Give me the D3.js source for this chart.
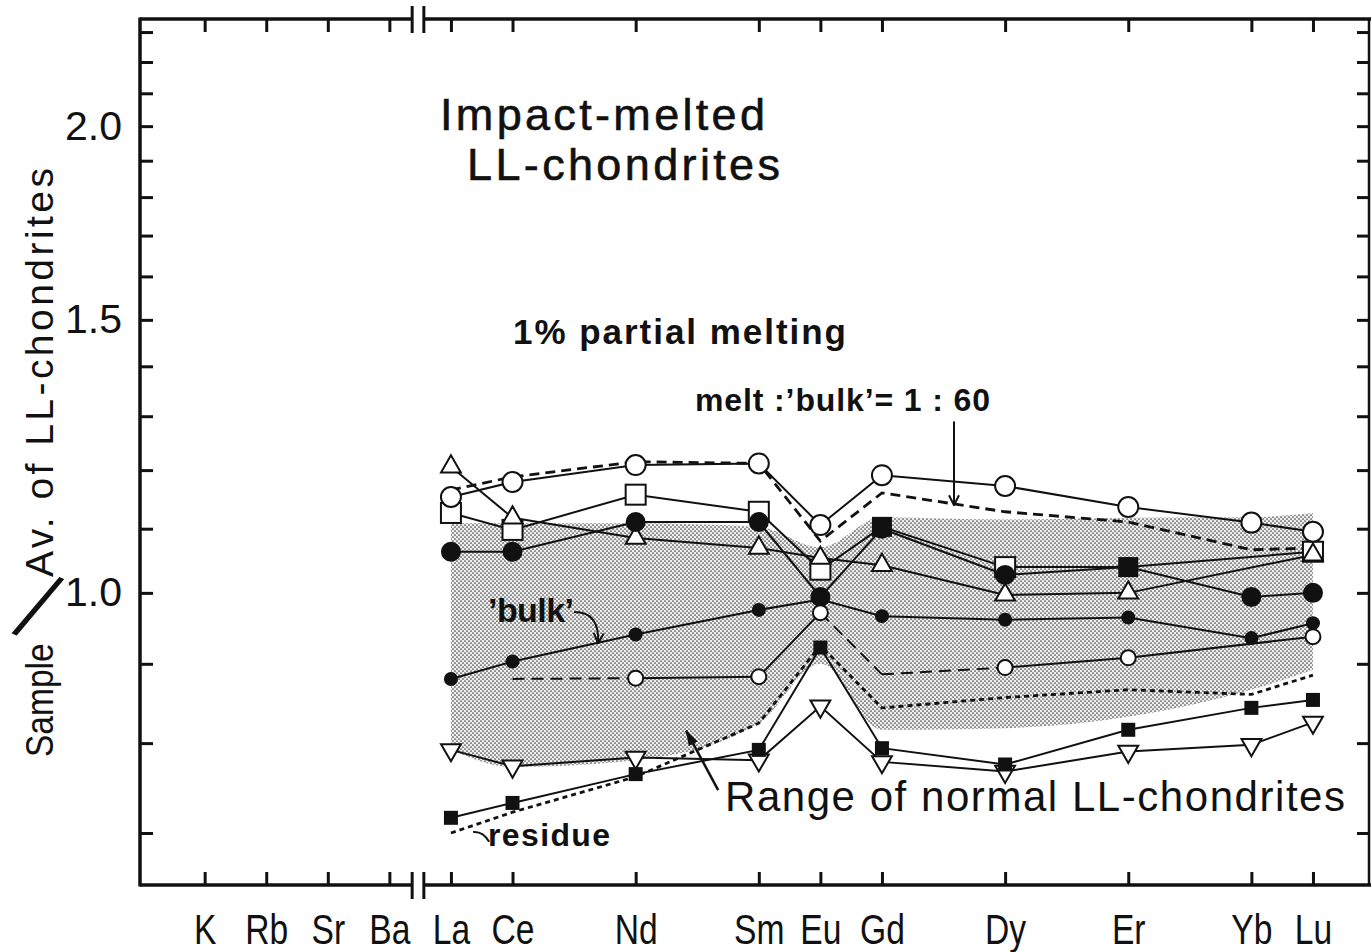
<!DOCTYPE html>
<html>
<head>
<meta charset="utf-8">
<script src="https://cdn.jsdelivr.net/npm/d3@7"></script>
<style>
  html, body { margin: 0; padding: 0; background: #fff; }
  svg { display: block; }
  text { font-family: "Liberation Sans", Arial, Helvetica, sans-serif; fill: #111; }
</style>
</head>
<body>
<svg id="chart" width="1371" height="952"></svg>
<script>
// ---- x-axis elements (REE spaced by atomic number) ----
const elements   = ["K", "Rb", "Sr", "Ba", "La", "Ce", "Nd", "Sm", "Eu", "Gd", "Dy", "Er", "Yb", "Lu"];
const elementPos = [53, 54, 55, 56, 57, 58, 60, 62, 63, 64, 66, 68, 70, 71];
const ree        = ["La", "Ce", "Nd", "Sm", "Eu", "Gd", "Dy", "Er", "Yb", "Lu"];

// ---- y-axis ticks (log scale) ----
const yTicks      = [0.7, 0.8, 0.9, 1.0, 1.1, 1.2, 1.3, 1.4, 1.5, 1.6, 1.7, 1.8, 1.9, 2.0, 2.1, 2.2, 2.3];
const yTickLabels = [1.0, 1.5, 2.0];

// ---- impact-melted samples, sample / average LL (order of `ree`; null = not determined) ----
const sampleOpenCircle   = [1.153, 1.179, 1.209, 1.212, 1.106, 1.191, 1.172, 1.136, 1.110, 1.095];
const sampleOpenSquare   = [1.126, 1.098, 1.157, 1.128, 1.035, 1.103, 1.039, 1.039, null, 1.063];
const sampleFilledCircle = [1.063, 1.063, 1.111, 1.111, 0.994, 1.100, 1.027, 1.039, 0.994, 1.000];
const sampleTriangle     = [1.206, 1.118, 1.085, 1.069, 1.053, 1.042, 0.997, 1.000, null, 1.058];
const sampleSmallCircle  = [null, 0.880, 0.881, 0.883, 0.971, 0.886, 0.895, 0.908, null, 0.937];
const sampleInvTriangle  = [0.792, 0.773, 0.783, 0.780, 0.845, 0.778, 0.767, 0.790, 0.798, 0.825];
const sampleSmallSquare  = [0.716, 0.732, 0.764, 0.792, 0.922, 0.794, 0.775, 0.816, 0.843, 0.853];
// elements where the small-circle sample is interpolated (no symbol, dashed link)
const smallCircleEstimated = ["Ce", "Gd"];
// elements where the open-square sample coincides with the filled-circle sample
const squareCoincident = ["Gd", "Er"];

// ---- 'bulk' and 1 % partial-melting model ----
const bulk    = [0.880, 0.903, 0.940, 0.975, 0.990, 0.966, 0.961, 0.964, 0.935, 0.956];
const melt    = [1.165, 1.188, 1.215, 1.212, 1.080, 1.160, 1.128, 1.111, 1.066, 1.069];
const residue = [0.700, 0.722, 0.761, 0.824, 0.925, 0.843, 0.856, 0.866, 0.860, 0.885];

// ---- range of normal LL-chondrites ----
const rangeUpper = [1.109, 1.109, 1.109, 1.103, 1.070, 1.119, 1.115, 1.118, 1.119, 1.126];
const rangeLower = [0.792, 0.772, 0.780, 0.824, 0.900, 0.816, 0.818, 0.832, 0.866, 0.892];

// ---- axis break between Ba and La ----
const axisBreak = [56.37, 56.56];

// ---------------------------------------------------------------
const W = 1371, H = 952;
const plotL = 140, plotR = 1369, plotT = 19, plotB = 885;
const svg = d3.select("#chart");

const x = d3.scaleLinear().domain([51.95, 71.91]).range([plotL, plotR]);
const y = d3.scaleLog().domain([0.648, 2.345]).range([plotB, plotT]);
const posOf = el => elementPos[elements.indexOf(el)];

// stipple pattern for the normal range
const defs = svg.append("defs");
const pat = defs.append("pattern").attr("id", "stipple")
  .attr("width", 4).attr("height", 4).attr("patternUnits", "userSpaceOnUse");
pat.append("rect").attr("width", 4).attr("height", 4).attr("fill", "#eeeeee");
pat.append("circle").attr("cx", 1).attr("cy", 1).attr("r", 0.85).attr("fill", "#444");
pat.append("circle").attr("cx", 3).attr("cy", 3).attr("r", 0.85).attr("fill", "#444");

defs.append("marker").attr("id", "arrowOpen").attr("viewBox", "0 0 12 12")
  .attr("refX", 11).attr("refY", 6).attr("markerWidth", 12).attr("markerHeight", 12)
  .attr("markerUnits", "userSpaceOnUse").attr("orient", "auto")
  .append("path").attr("d", "M1,1 L11,6 L1,11").attr("fill", "none")
  .attr("stroke", "#111").attr("stroke-width", 2);
defs.append("marker").attr("id", "arrowFilled").attr("viewBox", "0 0 16 12")
  .attr("refX", 15).attr("refY", 6).attr("markerWidth", 16).attr("markerHeight", 12)
  .attr("markerUnits", "userSpaceOnUse").attr("orient", "auto")
  .append("path").attr("d", "M0,1 L16,6 L0,11 Z").attr("fill", "#111");

// ---- shaded range ----
const rangeData = ree.map((el, i) => ({ pos: posOf(el), lo: rangeLower[i], hi: rangeUpper[i] }));
svg.append("path")
  .datum(rangeData)
  .attr("d", d3.area().x(d => x(d.pos)).y0(d => y(d.lo)).y1(d => y(d.hi)).curve(d3.curveMonotoneX))
  .attr("fill", "url(#stipple)");

// ---- frame with axis break ----
const frame = svg.append("g").attr("stroke", "#111").attr("stroke-width", 3.5).attr("fill", "none");
frame.append("line").attr("x1", plotL).attr("x2", plotL).attr("y1", plotT - 1.5).attr("y2", plotB + 1.5);
frame.append("line").attr("x1", plotR).attr("x2", plotR).attr("y1", plotT).attr("y2", plotB).attr("stroke-width", 2.5);
[plotT, plotB].forEach(yy => {
  frame.append("line").attr("x1", plotL).attr("x2", x(axisBreak[0])).attr("y1", yy).attr("y2", yy);
  frame.append("line").attr("x1", x(axisBreak[1])).attr("x2", W).attr("y1", yy).attr("y2", yy);
  axisBreak.forEach(b => frame.append("line")
    .attr("x1", x(b)).attr("x2", x(b)).attr("y1", yy - 13).attr("y2", yy + 14).attr("stroke-width", 3));
});

// ---- axes ----
function styleAxis(g) {
  g.select(".domain").remove();
  g.selectAll(".tick line").attr("stroke", "#111").attr("stroke-width", 3);
}
svg.append("g").attr("transform", `translate(${plotL},0)`)
  .call(d3.axisLeft(y).tickValues(yTicks).tickSize(-13).tickPadding(18)
    .tickFormat(d => yTickLabels.includes(d) ? d3.format(".1f")(d) : ""))
  .call(styleAxis)
  .call(g => g.selectAll("text").style("font-size", "41px")
    .style("font-family", "'Liberation Sans', Arial, sans-serif").attr("fill", "#111"));
svg.append("g").attr("transform", `translate(${plotR},0)`)
  .call(d3.axisRight(y).tickValues(yTicks).tickSize(-12).tickFormat(""))
  .call(styleAxis);
svg.append("g").attr("transform", `translate(0,${plotB})`)
  .call(d3.axisBottom(x).tickValues(elementPos).tickSize(-13).tickPadding(29)
    .tickFormat((d, i) => elements[i]))
  .call(styleAxis)
  .call(g => g.selectAll("text").style("font-size", "42px")
    .style("font-family", "'Liberation Sans', Arial, sans-serif").attr("fill", "#111")
    .attr("transform", "scale(0.8,1)"));
svg.append("g").attr("transform", `translate(0,${plotT})`)
  .call(d3.axisTop(x).tickValues(elementPos).tickSize(-13).tickFormat(""))
  .call(styleAxis);

// ---- lines ----
const line = d3.line().x(d => x(d.pos)).y(d => y(d.v));
function points(values) {
  return ree.map((el, i) => ({ el, pos: posOf(el), v: values[i] })).filter(d => d.v != null);
}
const lines = svg.append("g").attr("fill", "none").attr("stroke", "#111");

// model curves
lines.append("path").attr("d", line(points(melt)))
  .attr("stroke-width", 2.8).attr("stroke-dasharray", "10,6");
lines.append("path").attr("d", line(points(residue)))
  .attr("stroke-width", 2.8).attr("stroke-dasharray", "5,4");

// sample lines
[sampleOpenCircle, sampleOpenSquare, sampleFilledCircle, sampleTriangle,
 bulk, sampleInvTriangle, sampleSmallSquare].forEach(vals => {
  lines.append("path").attr("d", line(points(vals))).attr("stroke-width", 2);
});
// small-circle sample: dashed where a link touches an interpolated value
const sc = points(sampleSmallCircle);
for (let i = 0; i < sc.length - 1; i++) {
  const a = sc[i], b = sc[i + 1];
  const est = smallCircleEstimated.includes(a.el) || smallCircleEstimated.includes(b.el);
  lines.append("path").attr("d", line([a, b])).attr("stroke-width", 2)
    .attr("stroke-dasharray", est ? "12,7" : null);
}

// ---- symbols ----
const sym = svg.append("g");
function drawSymbols(values, kind, opts = {}) {
  points(values).forEach(d => {
    if (opts.skip && opts.skip.includes(d.el)) return;
    const cx = x(d.pos), cy = y(d.v);
    const filledHere = opts.filledAt && opts.filledAt.includes(d.el);
    let el;
    switch (kind) {
      case "circle":
        el = sym.append("circle").attr("cx", cx).attr("cy", cy).attr("r", opts.r || 10); break;
      case "square":
        el = sym.append("rect").attr("x", cx - (opts.s || 20) / 2).attr("y", cy - (opts.s || 20) / 2)
          .attr("width", opts.s || 20).attr("height", opts.s || 20); break;
      case "triangle":
        el = sym.append("path").attr("transform", `translate(${cx},${cy})`)
          .attr("d", d3.symbol(d3.symbolTriangle, 170)()); break;
      case "triangleDown":
        el = sym.append("path").attr("transform", `translate(${cx},${cy}) rotate(180)`)
          .attr("d", d3.symbol(d3.symbolTriangle, 170)()); break;
    }
    if (opts.filled || filledHere) el.attr("fill", "#111");
    else el.attr("fill", "#fff").attr("stroke", "#111").attr("stroke-width", 2);
  });
}
drawSymbols(sampleOpenSquare, "square", { filledAt: squareCoincident });
drawSymbols(sampleTriangle, "triangle");
drawSymbols(sampleOpenCircle, "circle", { r: 10 });
drawSymbols(sampleFilledCircle, "circle", { r: 10, filled: true });
drawSymbols(bulk, "circle", { r: 7, filled: true });
drawSymbols(sampleSmallCircle, "circle", { r: 7.5, skip: smallCircleEstimated });
drawSymbols(sampleInvTriangle, "triangleDown");
drawSymbols(sampleSmallSquare, "square", { s: 14, filled: true });

// ---- annotation arrows (anchored in data units) ----
const ann = svg.append("g").attr("fill", "none").attr("stroke", "#111").attr("stroke-width", 2);
// melt : 'bulk' pointer
ann.append("line").attr("x1", x(65.17)).attr("x2", x(65.17)).attr("y1", y(1.29)).attr("y2", y(1.139))
  .attr("marker-end", "url(#arrowOpen)");
// 'bulk' pointer
ann.append("path")
  .attr("d", `M${x(59.0)},${y(0.972)} Q${x(59.42)},${y(0.972)} ${x(59.39)},${y(0.928)}`)
  .attr("marker-end", "url(#arrowOpen)");
// range pointer
ann.append("line").attr("x1", x(61.34)).attr("y1", y(0.746)).attr("x2", x(60.82)).attr("y2", y(0.815))
  .attr("stroke-width", 2.5).attr("marker-end", "url(#arrowFilled)");
// residue hook
ann.append("path")
  .attr("d", `M${x(57.62)},${y(0.691)} Q${x(57.52)},${y(0.702)} ${x(57.36)},${y(0.701)}`);

// ---- text ----
function label(txt, x0, y0, size, weight, len) {
  const t = svg.append("text").attr("x", x0).attr("y", y0)
    .style("font-size", size + "px").style("font-weight", weight).text(txt);
  if (len) t.attr("textLength", len).attr("lengthAdjust", "spacing");
  return t;
}
label("Impact-melted", 440, 130, 45, "normal", 325).attr("stroke", "#111").attr("stroke-width", 0.6);
label("LL-chondrites", 467, 180, 45, "normal", 313).attr("stroke", "#111").attr("stroke-width", 0.6);
label("1% partial melting", 513, 344, 35, "bold", 333);
label("melt :\u2019bulk\u2019= 1 : 60", 695, 411, 32, "bold", 295);
label("\u2019bulk\u2019", 488, 622, 34, "bold", 86);
label("Range of normal LL-chondrites", 725, 811, 42, "normal", 620);
label("residue", 488, 846, 32, "bold", 122);

// y-axis title
svg.append("text").attr("transform", "translate(53,757) rotate(-90) scale(0.86,1)")
  .style("font-size", "39px").text("Sample");
svg.append("text").attr("transform", "translate(53,577) rotate(-90)")
  .attr("textLength", 409).attr("lengthAdjust", "spacing")
  .style("font-size", "39px").text("Av. of LL-chondrites");
svg.append("text").attr("transform", "translate(38,606) rotate(25)")
  .attr("text-anchor", "middle").attr("dy", "0.36em")
  .attr("stroke", "#fff").attr("stroke-width", 2.2)
  .style("font-size", "100px").text("/");
</script>
</body>
</html>
